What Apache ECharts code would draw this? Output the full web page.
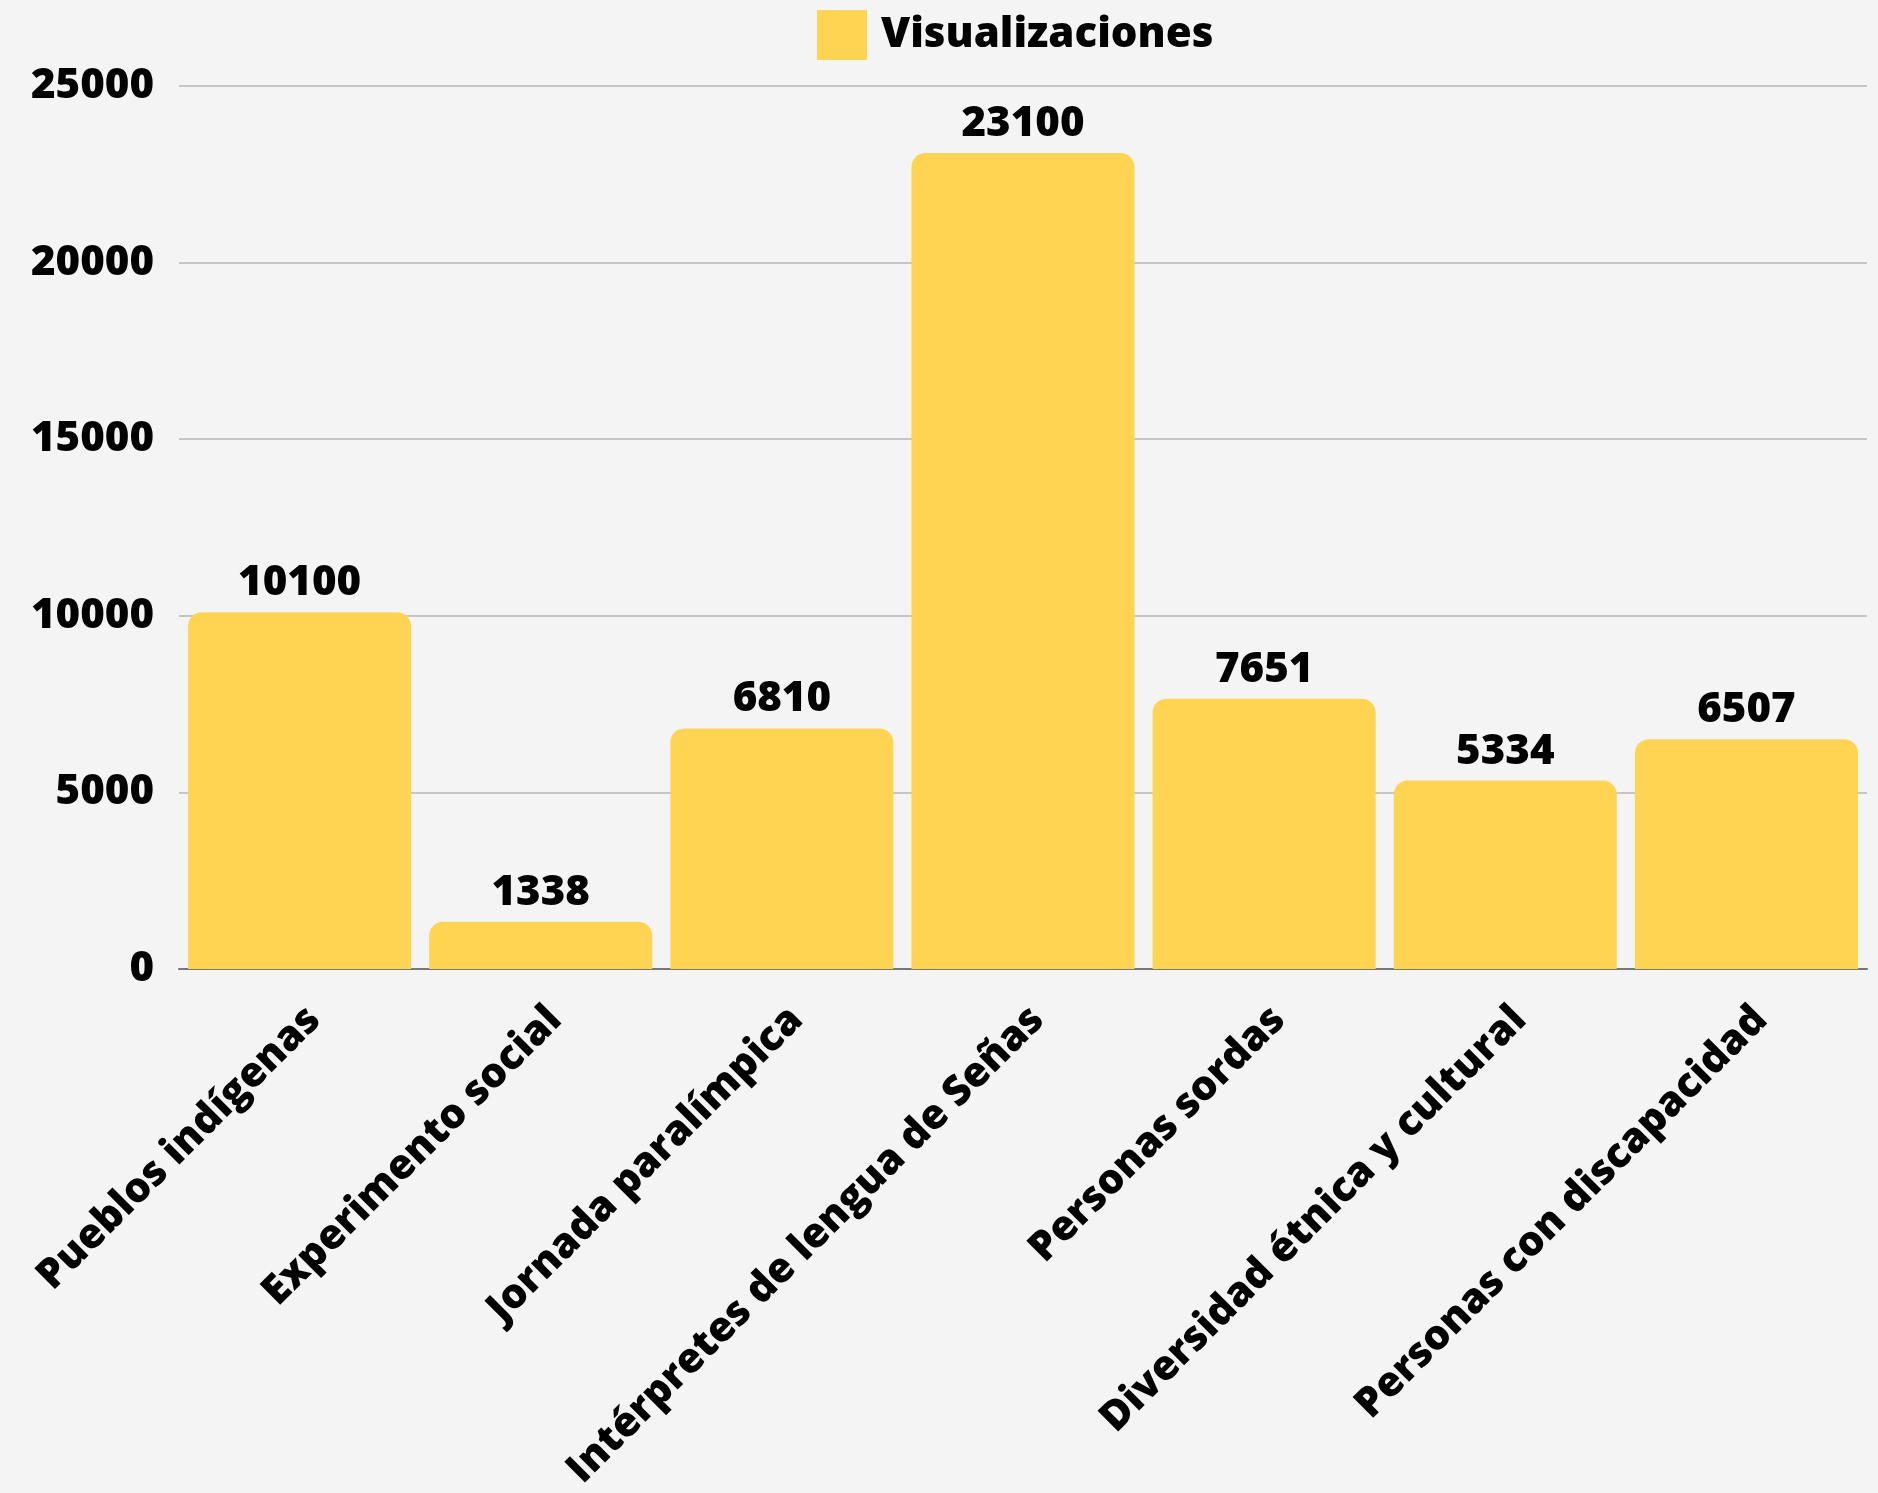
<!DOCTYPE html>
<html>
<head>
<meta charset="utf-8">
<title>Visualizaciones</title>
<script src="https://cdn.jsdelivr.net/npm/echarts@6/dist/echarts.min.js"></script>
<style>
  html, body { margin: 0; padding: 0; background: #f4f4f4; }
  #chart { width: 1878px; height: 1493px; }
</style>
</head>
<body>
<div id="chart"></div>
<script>
// datos del grafico
const categorias = [
  'Pueblos indígenas',
  'Experimento social',
  'Jornada paralímpica',
  'Intérpretes de lengua de Señas',
  'Personas sordas',
  'Diversidad étnica y cultural',
  'Personas con discapacidad'
];
const visualizaciones = [10100, 1338, 6810, 23100, 7651, 5334, 6507];
const ejeY = { min: 0, max: 25000, interval: 5000 };

const fuente = '"Open Sans", "DejaVu Sans", sans-serif';
const peso = 800;

const chart = echarts.init(document.getElementById('chart'));

const option = {
  backgroundColor: '#f4f4f4',
  textStyle: { fontFamily: fuente },
  legend: {
    top: 5,
    left: 812,
    itemWidth: 50,
    itemHeight: 50,
    icon: 'rect',
    textStyle: {
      color: '#000',
      fontSize: 42,
      fontWeight: peso,
      fontFamily: fuente,
      padding: [0, 0, 0, 9]
    },
    data: ['Visualizaciones']
  },
  grid: {
    left: 179,
    right: 11,
    top: 86,
    bottom: 520,
    containLabel: false
  },
  xAxis: {
    type: 'category',
    data: categorias,
    axisTick: { show: false },
    axisLine: { lineStyle: { color: '#777', width: 2 } },
    axisLabel: {
      rotate: 45,
      interval: 0,
      margin: 30,
      verticalAlign: 'top',
      color: '#000',
      fontSize: 41,
      fontWeight: peso,
      fontFamily: fuente
    }
  },
  yAxis: {
    type: 'value',
    min: ejeY.min,
    max: ejeY.max,
    interval: ejeY.interval,
    axisLine: { show: false },
    axisTick: { show: false },
    splitLine: { lineStyle: { color: '#c6c6c6', width: 2 } },
    axisLabel: {
      margin: 25,
      color: '#000',
      fontSize: 42,
      fontWeight: peso,
      fontFamily: fuente,
      formatter: function (v) { return String(v); }
    }
  },
  series: [
    {
      name: 'Visualizaciones',
      type: 'bar',
      data: visualizaciones,
      barCategoryGap: '7.5%',
      itemStyle: {
        color: '#ffd452',
        borderRadius: [14, 14, 0, 0]
      },
      label: {
        show: true,
        position: 'top',
        distance: 8,
        color: '#000',
        fontSize: 42,
        fontWeight: peso,
        fontFamily: fuente
      }
    }
  ]
};

chart.setOption(option);
</script>
</body>
</html>
